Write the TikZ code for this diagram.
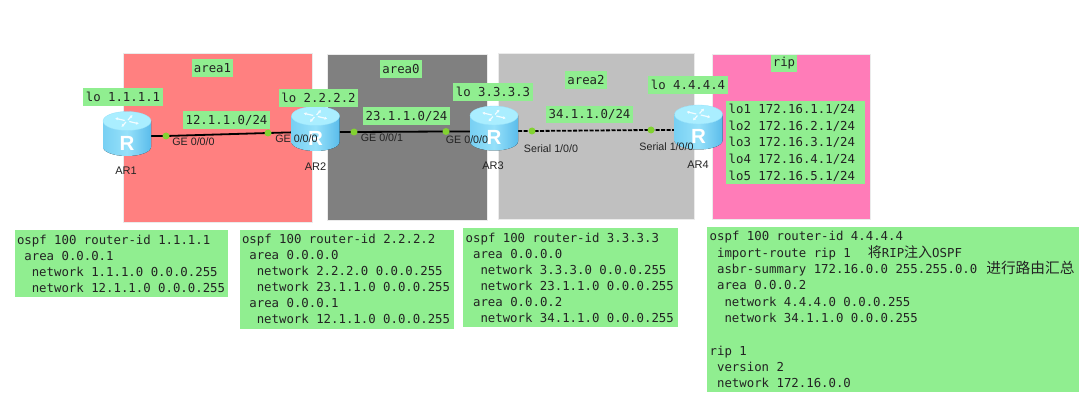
\documentclass[tikz,border=0pt]{standalone}
\usepackage{fontspec}
\usetikzlibrary{arrows.meta,calc}
\setmainfont{Liberation Sans}
\setmonofont{DejaVu Sans Mono}
\newfontfamily\cjk{Noto Sans CJK SC}
\definecolor{lgreen}{RGB}{144,238,144}
\definecolor{areared}{RGB}{255,128,128}
\definecolor{areadark}{RGB}{128,128,128}
\definecolor{arealight}{RGB}{192,192,192}
\definecolor{areapink}{RGB}{255,124,184}
\definecolor{dotgreen}{RGB}{130,210,50}
\definecolor{txt}{RGB}{35,35,35}
\definecolor{RBL}{RGB}{120,208,243}
\definecolor{RBM}{RGB}{150,225,250}
\definecolor{RBR}{RGB}{90,188,235}
\definecolor{RTOP}{RGB}{170,238,255}
\newcommand\Ind[1]{\hspace*{#1\dimexpr 7.4pt\relax}}
\tikzset{
  x=1pt,y=-1pt,
  areabox/.style={draw=white!92!black,line width=0.8pt,anchor=north west,inner sep=0pt},
  lab/.style={fill=lgreen,inner sep=0pt,font=\ttfamily\fontsize{12.35}{15}\selectfont,text=txt},
  cfg/.style={fill=lgreen,anchor=north west,inner xsep=2.5pt,inner ysep=0pt,align=flush left,
    font=\ttfamily\fontsize{12.35}{16}\selectfont,text=txt},
  port/.style={font=\fontsize{10.7}{12}\selectfont,text=txt,inner sep=0pt},
  devname/.style={font=\fontsize{11}{13}\selectfont,text=txt,inner sep=0pt},
  routerbox/.style={minimum width=48pt,minimum height=45pt,inner sep=0pt},
  dot/.style={circle,fill=dotgreen,minimum size=7pt,inner sep=0pt},
  wire/.style={draw=black,line width=1.8pt},
  serial/.style={wire,dash pattern=on 4pt off 1.5pt},
  router/.pic={
    \fill[left color=RBL,right color=RBR,middle color=RBM]
      (-24,-13) -- (-24,13) arc[x radius=24,y radius=9,start angle=180,end angle=0] -- (24,-13) -- cycle;
    \fill[RTOP,draw=RBM,line width=0.3pt] (0,-13) ellipse[x radius=24,y radius=9.5];
    \foreach \a in {25,115,205,295}{
      \draw[white!85!RTOP,line width=1.2pt,-{Latex[length=2.6pt,width=3.4pt]}]
        ($(0,-13)+(\a:2.5 and 1.2)$) -- ($(0,-13)+(\a:13 and 6.5)$);
    }
    \node[text=white,inner sep=0pt,font=\bfseries\fontsize{20.5}{21}\selectfont] at (0,9) {R};
  }
}
\begin{document}
\begin{tikzpicture}
\useasboundingbox (0,0) rectangle (1090,417);
% areas
\node[areabox,fill=areared,minimum width=189pt,minimum height=169pt] (a1) at (123,53) {};
\node[areabox,fill=areadark,minimum width=160pt,minimum height=166pt] (a0) at (327,54) {};
\node[areabox,fill=arealight,minimum width=196pt,minimum height=166pt] (a2) at (498,53) {};
\node[areabox,fill=areapink,minimum width=158pt,minimum height=165pt] (arip) at (712,54) {};
% routers and ports
\node[routerbox] (ar1) at (127,134) {};
\node[routerbox] (ar2) at (315.5,129) {};
\node[routerbox] (ar3) at (494,128.5) {};
\node[routerbox] (ar4) at (698.5,127.5) {};
\coordinate (p1) at (166,136);
\coordinate (p2) at (268,133);
\coordinate (p3) at (354,132);
\coordinate (p4) at (446,131.5);
\coordinate (p5) at (532,131);
\coordinate (p6) at (651,130);
\draw[wire] ($(ar1.center)+(20,2)$) -- (p1) -- (p2) -- ($(ar2.center)+(-10,3)$);
\draw[wire] ($(ar2.center)+(10,3)$) -- (p3) -- (p4) -- ($(ar3.center)+(-10,3)$);
\draw[serial] ($(ar3.center)+(24,2.5)$) -- (p5) -- (p6) -- ($(ar4.center)+(-23,2.5)$);
\path (ar1) pic {router} (ar2) pic {router} (ar3) pic {router} (ar4) pic {router};
\node[dot] (d1) at (p1) {};
\node[dot] (d2) at (p2) {};
\node[dot] (d3) at (p3) {};
\node[dot] (d4) at (p4) {};
\node[dot] (d5) at (p5) {};
\node[dot] (d6) at (p6) {};
% port labels
\node[port] (t1) at (193.5,141.5) {GE 0/0/0};
\node[port] (t2) at (296.5,139) {GE 0/0/0};
\node[port] (t3) at (382,137.5) {GE 0/0/1};
\node[port] (t4) at (467,140) {GE 0/0/0};
\node[port] (t5) at (551,149) {Serial 1/0/0};
\node[port] (t6) at (666.5,147) {Serial 1/0/0};
\node[devname] (n1) at (126,171) {AR1};
\node[devname] (n2) at (315.5,167) {AR2};
\node[devname] (n3) at (493,166) {AR3};
\node[devname] (n4) at (698,165) {AR4};
% green labels
\node[lab,minimum width=41pt,minimum height=18pt] (l1) at (212.5,68) {area1};
\node[lab,minimum width=42pt,minimum height=18pt] (l2) at (401,69.5) {area0};
\node[lab,minimum width=42pt,minimum height=18pt] (l3) at (586,80) {area2};
\node[lab,minimum width=26pt,minimum height=17pt] (l4) at (784,63.5) {rip};
\node[lab,minimum width=80pt,minimum height=18pt] (l5) at (123,97) {lo 1.1.1.1};
\node[lab,minimum width=79pt,minimum height=18pt] (l6) at (318.5,98) {lo 2.2.2.2};
\node[lab,minimum width=80pt,minimum height=18pt] (l7) at (493,92) {lo 3.3.3.3};
\node[lab,minimum width=80pt,minimum height=18pt] (l8) at (688,85) {lo 4.4.4.4};
\node[lab,minimum width=87pt,minimum height=18pt] (l9) at (226.5,120) {12.1.1.0/24};
\node[lab,minimum width=87pt,minimum height=18pt] (l10) at (406.5,116) {23.1.1.0/24};
\node[lab,minimum width=87pt,minimum height=17pt] (l11) at (589.5,114.5) {34.1.1.0/24};
\node[cfg,text width=134pt,minimum height=83pt,font=\ttfamily\fontsize{12.35}{16.6}\selectfont] (lo) at (726,101)
 {lo1 172.16.1.1/24\\lo2 172.16.2.1/24\\lo3 172.16.3.1/24\\lo4 172.16.4.1/24\\lo5 172.16.5.1/24};
% configuration boxes
\node[cfg,text width=208.7pt,minimum height=67pt] (c1) at (14.3,230)
 {ospf 100 router-id 1.1.1.1\\
  \Ind{1}area 0.0.0.1\\
  \Ind{2}network 1.1.1.0 0.0.0.255\\
  \Ind{2}network 12.1.1.0 0.0.0.255};
\node[cfg,text width=209.4pt,minimum height=99.4pt] (c2) at (239.3,229.3)
 {ospf 100 router-id 2.2.2.2\\
  \Ind{1}area 0.0.0.0\\
  \Ind{2}network 2.2.2.0 0.0.0.255\\
  \Ind{2}network 23.1.1.0 0.0.0.255\\
  \Ind{1}area 0.0.0.1\\
  \Ind{2}network 12.1.1.0 0.0.0.255};
\node[cfg,text width=210pt,minimum height=99pt] (c3) at (463,228)
 {ospf 100 router-id 3.3.3.3\\
  \Ind{1}area 0.0.0.0\\
  \Ind{2}network 3.3.3.0 0.0.0.255\\
  \Ind{2}network 23.1.1.0 0.0.0.255\\
  \Ind{1}area 0.0.0.2\\
  \Ind{2}network 34.1.1.0 0.0.0.255};
\node[cfg,text width=367pt,minimum height=165pt,font=\ttfamily\fontsize{12.35}{16.3}\selectfont] (c4) at (707,227)
 {ospf 100 router-id 4.4.4.4\\
  \Ind{1}import-route rip 1\hspace{17pt}{\cjk\fontsize{14}{16}\selectfont 将}RIP{\cjk\fontsize{14}{16}\selectfont 注入}OSPF\\
  \Ind{1}asbr-summary 172.16.0.0 255.255.0.0\hspace{9pt}{\cjk\fontsize{14.7}{16}\selectfont 进行路由汇总}\\
  \Ind{1}area 0.0.0.2\\
  \Ind{2}network 4.4.4.0 0.0.0.255\\
  \Ind{2}network 34.1.1.0 0.0.0.255\\[16.3pt]
  rip 1\\
  \Ind{1}version 2\\
  \Ind{1}network 172.16.0.0};
\end{tikzpicture}
\end{document}
